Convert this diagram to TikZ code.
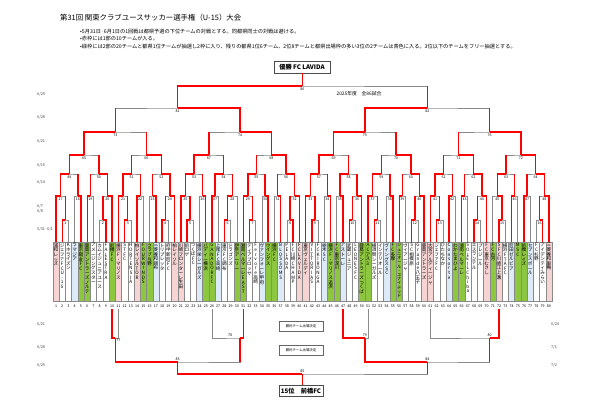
\documentclass[tikz,border=0pt]{standalone}
\usepackage{fontspec}
\setmainfont{Noto Sans CJK JP}
\usetikzlibrary{calc}

\definecolor{akawaku}{HTML}{F7D4D4}
\definecolor{midoriwaku}{HTML}{8DC63F}
\definecolor{aowaku}{HTML}{DCEBF7}
\definecolor{shirowaku}{HTML}{FFFFFF}
\definecolor{haisen}{HTML}{8A8A8A}

\makeatletter
\newcount\tatecnt
% team names are set upright, one character under the other
\newcommand\tate[1]{%
  \edef\tate@list{#1}%
  \tatecnt=0
  \def\tate@go{\@tfor\tate@c:=}%
  \expandafter\tate@go\tate@list\do{\advance\tatecnt by 1 }%
  \pgfmathsetmacro\tate@sz{min(4.6,55/max(\the\tatecnt,1))}%
  \vbox{\fontsize{\tate@sz}{\tate@sz}\selectfont
    \baselineskip=\tate@sz pt \lineskiplimit=-10pt \lineskip=0pt
    \expandafter\tate@go\tate@list\do{\hbox to 6pt{\hss\tate@c\hss}}}}
% one match: number, left side, right side, level, winner (1 left, 2 right)
\newcommand\bout[6][below=1.3pt]{%
  \edef\bo@a{#3}\edef\bo@b{#4}%
  \path let \p1=(#3), \p2=(#4), \p3=(0,#5) in ({(\x1+\x2)/2},\y3) coordinate (m#2);
  \draw[lose] (#3) |- (m#2) -| (#4);
  \if m\expandafter\@car\bo@a\@nil
    \path let \p1=(#3), \p2=(m#2) in [win] (\p1) -- (\x1,\y2);\fi
  \if m\expandafter\@car\bo@b\@nil
    \path let \p1=(#4), \p2=(m#2) in [win] (\p1) -- (\x1,\y2);\fi
  \ifnum#6=1 \draw[win] (#3) |- (m#2);\else \draw[win] (#4) |- (m#2);\fi
  \node[num, #1] (lb#2) at (m#2) {#2};
}
\makeatother

\begin{document}
\begin{tikzpicture}[x=1pt, y=-1pt,
    team/.style={draw=haisen, line width=0.35pt, minimum width=6.24pt, minimum height=59pt, inner sep=0pt, anchor=north},
    tname/.style={anchor=north, inner sep=0pt, yshift=-1.3pt},
    lose/.style={draw=haisen, line width=0.7pt},
    win/.style={draw=red, line width=1.4pt},
    num/.style={font=\fontsize{3.6}{4}\selectfont, inner sep=0pt},
    hiduke/.style={font=\fontsize{3.8}{4.5}\selectfont, anchor=west, inner sep=0pt, text=black!75},
    kekka/.style={draw=black!70, line width=0.6pt, fill=white, inner sep=0pt, font=\fontsize{6.2}{7}\selectfont\bfseries},
    waku/.style={draw=black!60, line width=0.4pt, minimum width=44pt, minimum height=10pt, inner sep=0pt, font=\fontsize{3.4}{4}\selectfont}
  ]
  \useasboundingbox (0,0) rectangle (590,417);

  \node[anchor=west, inner sep=0pt, font=\fontsize{7.4}{8}\selectfont] (title) at (60,18) {第31回 関東クラブユースサッカー選手権（U-15）大会};
  \node[anchor=north west, inner sep=0pt, align=left, font=\fontsize{5.2}{7.4}\selectfont] (memo) at (80,29)
    {•5月31日·6月1日の1回戦は都県予選の下位チームの対戦とする。同都県同士の対戦は避ける。\\
     •赤枠には1部の10チームが入る。\\
     •緑枠には2部の20チームと都県1位チームが抽選し2枠に入り、残りの都県1位6チーム、2位8チームと都県出場枠の多い3位の2チームは青色に入る。3位以下のチームをフリー抽選とする。};

  % teams
  \foreach \i/\f/\n in {
      1/akawaku/浦和レッズ, 2/shirowaku/ジェファFC U-15, 3/shirowaku/Kホライズン, 4/aowaku/ラマジア,
      5/midoriwaku/東京蹴友FC, 6/midoriwaku/鹿島アントラーズノルテ, 7/shirowaku/アメージングスター, 8/shirowaku/カムイジュニアユース,
      9/shirowaku/FALESTRA, 10/midoriwaku/前橋FC, 11/akawaku/横浜F・マリノス, 12/shirowaku/STFC,
      13/shirowaku/HORTENSIA, 14/akawaku/柏レイソルTOR, 15/midoriwaku/FOURWINDS, 16/midoriwaku/クラブ与野,
      17/aowaku/三菱養和調布, 18/shirowaku/トリプレッタ, 19/shirowaku/府中新町FC, 20/akawaku/柏レイソル,
      21/akawaku/川崎フロンターレ生田, 22/shirowaku/前ロゲ, 23/shirowaku/つくばFC, 24/aowaku/横浜栄シーガルズ,
      25/midoriwaku/バディー横浜, 26/midoriwaku/GANADOR FC, 27/aowaku/上尾FC高崎, 28/shirowaku/東京FC調布,
      29/shirowaku/ドラゴンズ, 30/midoriwaku/伊奈アーリー, 31/midoriwaku/湘南ベルマーレEAST, 32/shirowaku/ディアブロッサ,
      33/shirowaku/Fervore高崎, 34/aowaku/ヴァンフォーレ甲府, 35/midoriwaku/ウイングス, 36/midoriwaku/横浜FC,
      37/aowaku/BLOSSOMS, 38/shirowaku/PELADA, 39/shirowaku/FC川崎CHAMP, 40/akawaku/FC LAVIDA,
      41/akawaku/東京ヴェルディ, 42/shirowaku/VITTORIAS, 43/shirowaku/FC KIRONGA, 44/aowaku/栃木SC,
      45/midoriwaku/横浜F・マリノス追浜, 46/midoriwaku/FC東京深川, 47/aowaku/アストーレ, 48/shirowaku/武蔵ジュニア,
      49/shirowaku/LEONES FC, 50/midoriwaku/鹿島アントラーズつくば, 51/midoriwaku/ACアスミ, 52/shirowaku/横須賀シーガルズ,
      53/shirowaku/インテリオール, 54/aowaku/ヴィングスSC, 55/midoriwaku/FC多摩, 56/midoriwaku/ジュニオール・ユナイテッド,
      57/shirowaku/ヴィアージャ, 58/shirowaku/SC相模原, 59/shirowaku/Grande八王子, 60/akawaku/鹿島アントラーズ,
      61/akawaku/大宮アルディージャ, 62/shirowaku/ジェファFC, 63/shirowaku/ひたちなか, 64/aowaku/Consorte,
      65/midoriwaku/わかたまひよ, 66/midoriwaku/湘南ベルマーレ, 67/shirowaku/SOLEIL Chiba, 68/shirowaku/エスランテル,
      69/shirowaku/プレジール, 70/akawaku/FC東京むさし, 71/midoriwaku/FC古河, 72/akawaku/SFC川崎江上溝,
      73/shirowaku/横浜FTA FC, 74/aowaku/町田ゼルビア, 75/midoriwaku/MSC, 76/midoriwaku/前橋レイズ,
      77/aowaku/セブンスポール, 78/shirowaku/FC杉野, 79/shirowaku/アイデンティみらい, 80/akawaku/三菱養和巣鴨}{
    \node[team, fill=\f] (t\i) at ({56+(\i-1)*6.24},242) {};
    \node[tname] (nm\i) at (t\i.north) {\tate{\n}};
    \node[num] (no\i) at ({56+(\i-1)*6.24},306) {\i};
    \coordinate (p\i) at (t\i.north);
  }

  % 1st round to final
  \foreach \id/\a/\b/\w in {1/p2/p3/1, 2/p8/p9/2, 3/p12/p13/1, 4/p18/p19/1, 5/p22/p23/1, 6/p28/p29/1,
      7/p32/p33/1, 8/p38/p39/2, 9/p42/p43/1, 10/p48/p49/1, 11/p52/p53/1, 12/p58/p59/1, 13/p62/p63/1,
      14/p68/p69/1, 15/p72/p73/1, 16/p78/p79/2}{\bout{\id}{\a}{\b}{220}{\w}}
  \foreach \id/\a/\b/\w in {17/p1/m1/1, 18/p4/p5/2, 19/p6/p7/1, 20/m2/p10/2, 21/p11/m3/1, 22/p14/p15/1,
      23/p16/p17/2, 24/m4/p20/2, 25/p21/m5/1, 26/p24/p25/2, 27/p26/p27/1, 28/m6/p30/1, 29/p31/m7/1,
      30/p34/p35/2, 31/p36/p37/2, 32/m8/p40/2, 33/p41/m9/1, 34/p44/p45/2, 35/p46/p47/2, 36/m10/p50/2,
      37/p51/m11/1, 38/p54/p55/2, 39/p56/p57/1, 40/m12/p60/2, 41/p61/m13/1, 42/p64/p65/1, 43/p66/p67/1,
      44/m14/p70/2, 45/p71/m15/2, 46/p74/p75/1, 47/p76/p77/1, 48/m16/p80/2}{\bout{\id}{\a}{\b}{196}{\w}}
  \foreach \id/\a/\b/\w in {49/m17/m18/1, 50/m19/m20/2, 51/m21/m22/1, 52/m23/m24/2, 53/m25/m26/1,
      54/m27/m28/1, 55/m29/m30/1, 56/m31/m32/2, 57/m33/m34/1, 58/m35/m36/1, 59/m37/m38/1, 60/m39/m40/2,
      61/m41/m42/1, 62/m43/m44/2, 63/m45/m46/1, 64/m47/m48/2}{\bout{\id}{\a}{\b}{174}{\w}}
  \foreach \id/\a/\b/\w in {65/m49/m50/1, 66/m51/m52/2, 67/m53/m54/1, 68/m55/m56/2, 69/m57/m58/1,
      70/m59/m60/2, 71/m61/m62/2, 72/m63/m64/2}{\bout{\id}{\a}{\b}{155}{\w}}
  \foreach \id/\a/\b/\w in {73/m65/m66/1, 74/m67/m68/2, 75/m69/m70/1, 76/m71/m72/2}{\bout{\id}{\a}{\b}{132}{\w}}
  \bout{81}{m73}{m74}{108}{2}
  \bout{82}{m75}{m76}{108}{1}
  \bout{86}{m81}{m82}{86}{1}

  \node[kekka, minimum width=56pt, minimum height=12pt] (yusho) at (302,67) {優勝 FC LAVIDA};
  \draw[win] (m86) -- (m86 |- yusho.south);
  \node[font=\fontsize{4.8}{5}\selectfont, inner sep=0pt] (zenshiai) at (359,94) {2025年度　全86試合};

  % places 9 to 15
  \coordinate (bt) at (0,309);
  \coordinate (bl) at (0,338);
  \foreach \i in {10,11,26,31,47,51,61,72}{\coordinate (q\i) at (t\i |- bt);}
  \coordinate (m77) at (m73 |- bl);
  \coordinate (m78) at (m74 |- bl);
  \coordinate (m79) at (m75 |- bl);
  \coordinate (m80) at (m76 |- bl);
  \draw[lose] (q10) |- (m77) -| (q11);
  \draw[lose] (q26) |- (m78) -| (q31);
  \draw[lose] (q47) |- (m79) -| (q51);
  \draw[lose] (q61) |- (m80) -| (q72);
  \draw[win] (q10) |- (m77);
  \draw[win] (q31) |- (m78);
  \draw[win] (q47) |- (m79);
  \draw[win] (q72) |- (m80);
  \node[num, anchor=north west, xshift=1pt, yshift=-1.2pt] (lb77) at (m77) {77};
  \node[num, anchor=south, xshift=-10pt, yshift=1.3pt] (lb78) at (m78) {78};
  \node[num, above=1.3pt] (lb79) at (m79) {79};
  \node[num, above=1.3pt] (lb80) at (m80) {80};
  \bout[above=1.3pt]{83}{m77}{m78}{362}{1}
  \bout[above=1.3pt]{84}{m79}{m80}{362}{1}
  \bout[above=1.3pt]{85}{m83}{m84}{374}{1}
  \node[kekka, minimum width=44pt, minimum height=11pt] (jugoi) at (301,391) {15位　前橋FC};
  \draw[win] (m85) -- (m85 |- jugoi.north);

  \node[waku] (kettei1) at (301,326.5) {勝利チーム出場決定};
  \node[waku] (kettei2) at (301,350.5) {勝利チーム出場決定};

  % dates
  \node[hiduke] (d1) at (37,94) {6/29};
  \node[hiduke] (d2) at (37,117.5) {6/28};
  \node[hiduke] (d3) at (37,141) {6/21};
  \node[hiduke] (d4) at (37,165) {6/15};
  \node[hiduke] (d5) at (37,182.7) {6/14};
  \node[hiduke] (d6) at (37,206) {6/7};
  \node[hiduke] (d7) at (37,211.7) {6/8};
  \node[hiduke] (d8) at (37,229.3) {5/31·6/1};
  \node[hiduke] (d9) at (37,324) {6/21};
  \node[hiduke] (d10) at (37,347.7) {6/28};
  \node[hiduke] (d11) at (37,365.7) {6/29};
  \node[hiduke] (d12) at (551,324) {6/24};
  \node[hiduke] (d13) at (551,347.7) {7/1};
  \node[hiduke] (d14) at (551,365.7) {7/2};
\end{tikzpicture}
\end{document}
